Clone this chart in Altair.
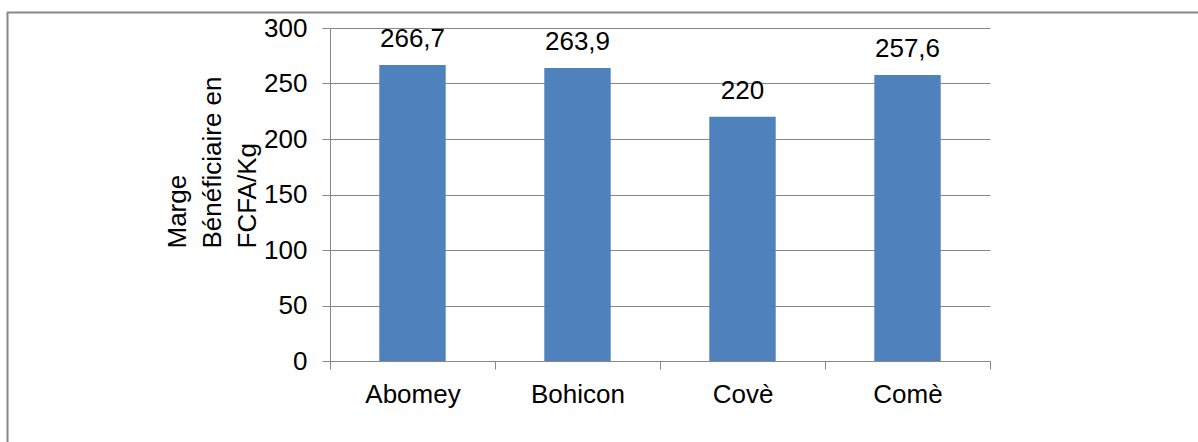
import altair as alt
import pandas as pd

categories = ["Abomey", "Bohicon", "Covè", "Comè"]
values = [266.7, 263.9, 220.0, 257.6]
value_labels = ["266,7", "263,9", "220", "257,6"]
y_ticks = [0, 50, 100, 150, 200, 250, 300]
y_title = ["Marge", "Bénéficiaire en", "FCFA/Kg"]

df = pd.DataFrame({"cat": categories, "val": values, "lab": value_labels})

FONT = "Liberation Sans"
GRAY = "#878787"
FS = 26

x_enc = alt.X(
    "cat:N",
    sort=categories,
    scale=alt.Scale(paddingInner=0, paddingOuter=0),
    axis=alt.Axis(
        title=None,
        tickBand="extent",
        tickSize=8,
        tickColor=GRAY,
        domainColor=GRAY,
        labelFont=FONT,
        labelFontSize=FS,
        labelColor="black",
        labelPadding=12.5,
        labelAngle=0,
        grid=False,
    ),
)
y_enc = alt.Y(
    "val:Q",
    scale=alt.Scale(domain=[0, 300], nice=False),
    axis=alt.Axis(
        values=y_ticks,
        title=y_title,
        titleFont=FONT,
        titleFontSize=FS,
        titleFontWeight="normal",
        titleColor="black",
        titleAngle=270,
        titleAlign="left",
        titleBaseline="alphabetic",
        titleLineHeight=35,
        titleX=-145,
        titleY=220,
        tickSize=8,
        tickColor=GRAY,
        domainColor=GRAY,
        gridColor=GRAY,
        gridOpacity=1,
        labelFont=FONT,
        labelFontSize=FS,
        labelColor="black",
        labelPadding=15,
    ),
)

bars = alt.Chart(df).mark_bar(size=66.4, color="#4F81BD").encode(x=x_enc, y=y_enc)
texts = alt.Chart(df).mark_text(
    font=FONT, fontSize=FS, color="black", baseline="alphabetic", dy=-17.6
).encode(x=alt.X("cat:N", sort=categories), y="val:Q", text="lab:N")

one = pd.DataFrame({"a": [0]})
border_top = alt.Chart(one).mark_rule(color="#888888", strokeWidth=2).encode(
    x=alt.value(-323), x2=alt.value(900), y=alt.value(-15.5)
)
border_left = alt.Chart(one).mark_rule(color="#888888", strokeWidth=2).encode(
    x=alt.value(-322.5), y=alt.value(-16), y2=alt.value(450)
)

chart = (
    alt.layer(bars, texts, border_top, border_left)
    .properties(
        width=660,
        height=333,
        padding={"left": 330, "top": 28, "right": 208, "bottom": 81},
        autosize=alt.AutoSizeParams(type="none"),
        background="white",
    )
    .configure_view(stroke=None)
)

chart.save("out.html", embed_options={"renderer": "svg", "actions": False})
